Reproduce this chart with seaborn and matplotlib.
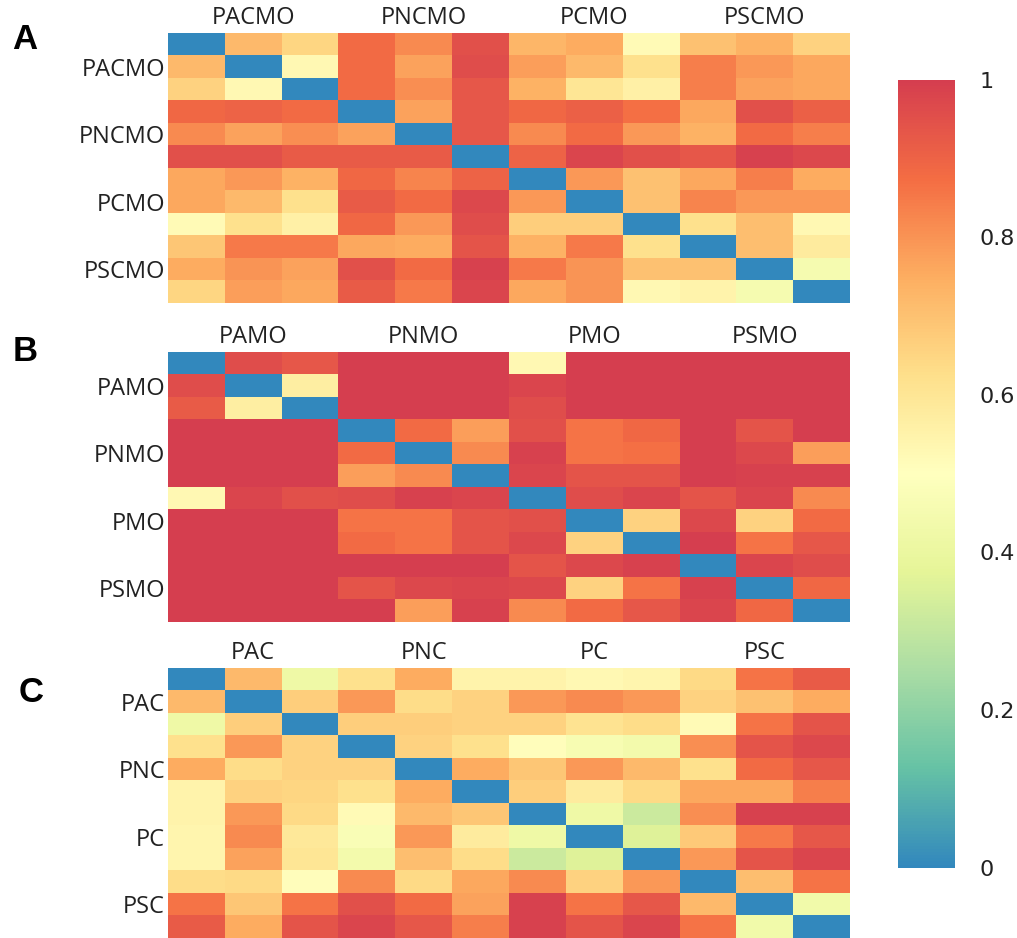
import numpy as np
import pandas as pd
import seaborn as sns
import matplotlib.pyplot as plt
from matplotlib.colors import LinearSegmentedColormap

# group labels of each panel
groups_a = ['PACMO', 'PNCMO', 'PCMO', 'PSCMO']
groups_b = ['PAMO', 'PNMO', 'PMO', 'PSMO']
groups_c = ['PAC', 'PNC', 'PC', 'PSC']

# panel A values (12 x 12)
vals_a = [
    [0.00, 0.72, 0.65, 0.88, 0.82, 0.95, 0.73, 0.75, 0.52, 0.70, 0.74, 0.66],
    [0.72, 0.00, 0.53, 0.88, 0.77, 0.96, 0.78, 0.72, 0.62, 0.84, 0.79, 0.76],
    [0.66, 0.53, 0.00, 0.88, 0.81, 0.93, 0.74, 0.60, 0.56, 0.84, 0.77, 0.76],
    [0.89, 0.90, 0.88, 0.00, 0.77, 0.93, 0.89, 0.91, 0.87, 0.76, 0.95, 0.91],
    [0.82, 0.77, 0.81, 0.77, 0.00, 0.93, 0.82, 0.88, 0.79, 0.74, 0.88, 0.84],
    [0.95, 0.95, 0.92, 0.92, 0.92, 0.00, 0.90, 0.98, 0.95, 0.93, 0.99, 0.97],
    [0.76, 0.79, 0.74, 0.89, 0.83, 0.90, 0.00, 0.79, 0.70, 0.76, 0.84, 0.75],
    [0.76, 0.72, 0.62, 0.92, 0.88, 0.97, 0.79, 0.00, 0.70, 0.83, 0.79, 0.79],
    [0.52, 0.62, 0.56, 0.89, 0.79, 0.96, 0.67, 0.67, 0.00, 0.62, 0.71, 0.53],
    [0.69, 0.85, 0.85, 0.76, 0.75, 0.94, 0.74, 0.85, 0.62, 0.00, 0.71, 0.58],
    [0.75, 0.80, 0.77, 0.95, 0.88, 0.99, 0.85, 0.80, 0.70, 0.70, 0.00, 0.45],
    [0.65, 0.78, 0.76, 0.92, 0.85, 0.98, 0.76, 0.80, 0.53, 0.55, 0.45, 0.00],
]

# panel B values
vals_b = [
    [0.00, 0.96, 0.93, 1.00, 1.00, 1.00, 0.53, 1.00, 1.00, 1.00, 1.00, 1.00],
    [0.96, 0.00, 0.57, 1.00, 1.00, 1.00, 0.98, 1.00, 1.00, 1.00, 1.00, 1.00],
    [0.92, 0.57, 0.00, 1.00, 1.00, 1.00, 0.96, 1.00, 1.00, 1.00, 1.00, 1.00],
    [1.00, 1.00, 1.00, 0.00, 0.88, 0.78, 0.95, 0.86, 0.89, 1.00, 0.94, 1.00],
    [1.00, 1.00, 1.00, 0.88, 0.00, 0.82, 0.99, 0.86, 0.87, 1.00, 0.97, 0.78],
    [1.00, 1.00, 1.00, 0.78, 0.82, 0.00, 0.98, 0.94, 0.94, 1.00, 0.99, 0.99],
    [0.53, 0.98, 0.95, 0.96, 0.99, 0.98, 0.00, 0.96, 0.98, 0.94, 0.98, 0.82],
    [1.00, 1.00, 1.00, 0.86, 0.86, 0.94, 0.95, 0.00, 0.66, 0.97, 0.66, 0.88],
    [1.00, 1.00, 1.00, 0.88, 0.86, 0.94, 0.97, 0.66, 0.00, 1.00, 0.86, 0.93],
    [1.00, 1.00, 1.00, 1.00, 1.00, 1.00, 0.94, 0.97, 0.99, 0.00, 0.98, 0.96],
    [1.00, 1.00, 1.00, 0.94, 0.97, 0.98, 0.97, 0.66, 0.86, 0.99, 0.00, 0.89],
    [1.00, 1.00, 1.00, 1.00, 0.78, 0.99, 0.82, 0.88, 0.93, 0.98, 0.89, 0.00],
]

# panel C values
vals_c = [
    [0.00, 0.72, 0.42, 0.62, 0.75, 0.55, 0.55, 0.53, 0.54, 0.64, 0.86, 0.92],
    [0.72, 0.00, 0.67, 0.79, 0.63, 0.66, 0.79, 0.82, 0.79, 0.66, 0.70, 0.75],
    [0.42, 0.67, 0.00, 0.67, 0.67, 0.66, 0.66, 0.61, 0.63, 0.52, 0.86, 0.94],
    [0.62, 0.79, 0.66, 0.00, 0.66, 0.62, 0.51, 0.46, 0.44, 0.81, 0.94, 0.97],
    [0.75, 0.63, 0.66, 0.66, 0.00, 0.75, 0.69, 0.79, 0.72, 0.62, 0.88, 0.93],
    [0.55, 0.66, 0.65, 0.62, 0.75, 0.00, 0.67, 0.58, 0.64, 0.76, 0.76, 0.84],
    [0.55, 0.79, 0.64, 0.52, 0.72, 0.69, 0.00, 0.42, 0.32, 0.81, 0.99, 0.99],
    [0.54, 0.82, 0.59, 0.47, 0.79, 0.58, 0.42, 0.00, 0.36, 0.68, 0.85, 0.93],
    [0.54, 0.77, 0.60, 0.44, 0.71, 0.63, 0.32, 0.36, 0.00, 0.79, 0.94, 0.98],
    [0.63, 0.64, 0.51, 0.82, 0.64, 0.76, 0.82, 0.66, 0.79, 0.00, 0.71, 0.86],
    [0.86, 0.69, 0.86, 0.95, 0.88, 0.77, 0.99, 0.86, 0.93, 0.72, 0.00, 0.43],
    [0.92, 0.75, 0.94, 0.98, 0.93, 0.84, 0.99, 0.94, 0.98, 0.86, 0.43, 0.00],
]

cbar_ticks = [0, 0.2, 0.4, 0.6, 0.8, 1]
cbar_labels = ['0', '0.2', '0.4', '0.6', '0.8', '1']

# spectral without the dark ends
cmap = LinearSegmentedColormap.from_list('spec', ['#3288bd', '#66c2a5', '#abdda4', '#e6f598', '#ffffbf',
                                                  '#fee08b', '#fdae61', '#f46d43', '#d53e4f'])

fig = plt.figure(figsize=(10.17, 9.38), dpi=100)
lab_font = 'Open Sans'

panels = [
    ('A', vals_a, groups_a, [0.165, 0.677, 0.671, 0.288], (0.012, 0.975)),
    ('B', vals_b, groups_b, [0.165, 0.337, 0.671, 0.288], (0.012, 0.643)),
    ('C', vals_c, groups_c, [0.165, 0.000, 0.671, 0.288], (0.018, 0.279)),
]

cax = fig.add_axes([0.883, 0.075, 0.056, 0.840])

for i, (letter, vals, groups, pos, lpos) in enumerate(panels):
    ax = fig.add_axes(pos)
    df = pd.DataFrame(np.array(vals))
    sns.heatmap(df, cmap=cmap, vmin=0, vmax=1, ax=ax,
                cbar=(i == 0), cbar_ax=cax if i == 0 else None,
                xticklabels=False, yticklabels=False)
    ax.xaxis.tick_top()
    ax.set_xticks([1.5, 4.5, 7.5, 10.5])
    ax.set_xticklabels(groups, fontsize=17, family=lab_font, color='#222222')
    ax.set_yticks([1.5, 4.5, 7.5, 10.5])
    ax.set_yticklabels(groups, fontsize=17, family=lab_font, color='#222222', rotation=0)
    ax.tick_params(length=0, pad=2)
    ax.set_xlabel('')
    ax.set_ylabel('')
    fig.text(lpos[0], lpos[1], letter, fontsize=25, fontweight='bold',
             family='Liberation Sans', va='top', ha='left')

cax.set_yticks(cbar_ticks)
cax.set_yticklabels(cbar_labels, fontsize=16, family='DejaVu Sans', color='#222222')
cax.tick_params(length=0, pad=18)
for s in cax.spines.values():
    s.set_visible(False)

fig.savefig('out.png', dpi=100)
